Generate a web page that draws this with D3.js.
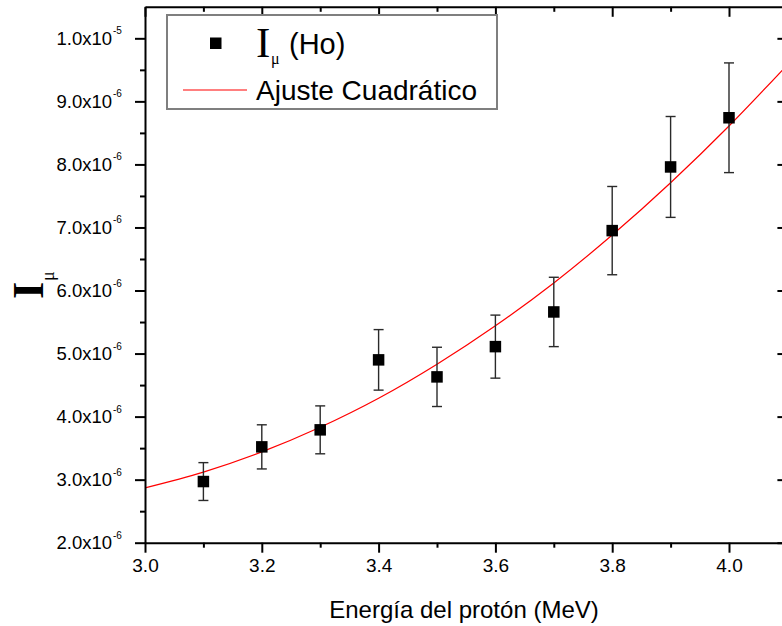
<!DOCTYPE html>
<html><head><meta charset="utf-8">
<script src="https://cdn.jsdelivr.net/npm/d3@7"></script>
<style>
body{margin:0;background:#fff;}
svg{display:block;}
text{fill:#000;}
</style>
</head><body>
<svg id="chart" width="782" height="626"></svg>
<script>
// ---- data ----
const energies = [3.1, 3.2, 3.3, 3.4, 3.5, 3.6, 3.7, 3.8, 3.9, 4.0];
const intensity = [2.97e-6, 3.52e-6, 3.79e-6, 4.90e-6, 4.63e-6, 5.11e-6, 5.66e-6, 6.95e-6, 7.96e-6, 8.74e-6];
const errors = [0.30e-6, 0.35e-6, 0.38e-6, 0.48e-6, 0.47e-6, 0.50e-6, 0.55e-6, 0.70e-6, 0.80e-6, 0.87e-6];
const fitEnergies = [3.0, 3.1, 3.2, 3.3, 3.4, 3.5, 3.6, 3.7, 3.8, 3.9, 4.0, 4.1];
const fitValues = [2.87e-6, 3.12e-6, 3.44e-6, 3.83e-6, 4.29e-6, 4.83e-6, 5.44e-6, 6.12e-6, 6.88e-6, 7.71e-6, 8.61e-6, 9.58e-6];
const xTicks = [3.0, 3.2, 3.4, 3.6, 3.8, 4.0];
const xMinorTicks = [3.1, 3.3, 3.5, 3.7, 3.9];
const xTickLabels = ["3.0", "3.2", "3.4", "3.6", "3.8", "4.0"];
const yTicks = [2e-6, 3e-6, 4e-6, 5e-6, 6e-6, 7e-6, 8e-6, 9e-6, 1e-5];
const yMinorTicks = [2.5e-6, 3.5e-6, 4.5e-6, 5.5e-6, 6.5e-6, 7.5e-6, 8.5e-6, 9.5e-6];
const yTickMantissas = ["2.0x10", "3.0x10", "4.0x10", "5.0x10", "6.0x10", "7.0x10", "8.0x10", "9.0x10", "1.0x10"];
const yTickExponents = ["-6", "-6", "-6", "-6", "-6", "-6", "-6", "-6", "-5"];
const xTitle = "Energía del protón (MeV)";
const seriesLabel = "(Ho)";
const fitLabel = "Ajuste Cuadrático";

const SANS = "'Liberation Sans', Arial, sans-serif";
const SERIF = "'Liberation Serif', 'Times New Roman', serif";

// ---- layout ----
const L = 145, R = 787.4, T = 6.8, B = 542.7;
const svg = d3.select("#chart");
const x = d3.scaleLinear().domain([3.0, 4.1]).range([L, R]);
const y = d3.scaleLinear().domain([2e-6, 1.05e-5]).range([B, T]);

svg.append("defs").append("clipPath").attr("id", "plotclip")
  .append("rect").attr("x", L).attr("y", T).attr("width", R - L).attr("height", B - T);

// fit curve
const line = d3.line().x((d, i) => x(fitEnergies[i])).y(d => y(d)).curve(d3.curveMonotoneX);
svg.append("path").datum(fitValues).attr("d", line)
  .attr("fill", "none").attr("stroke", "#ff0000").attr("stroke-width", 1.2)
  .attr("clip-path", "url(#plotclip)");

// error bars
const eb = svg.append("g").attr("stroke", "#2a2a2a").attr("stroke-width", 1.4);
energies.forEach((e, i) => {
  const cx = x(e), y1 = y(intensity[i] + errors[i]), y2 = y(intensity[i] - errors[i]);
  eb.append("line").attr("x1", cx).attr("x2", cx).attr("y1", y1).attr("y2", y2);
  eb.append("line").attr("x1", cx - 5).attr("x2", cx + 5).attr("y1", y1).attr("y2", y1);
  eb.append("line").attr("x1", cx - 5).attr("x2", cx + 5).attr("y1", y2).attr("y2", y2);
});
// markers
svg.append("g").selectAll("rect").data(intensity).join("rect")
  .attr("x", (d, i) => x(energies[i]) - 5.75).attr("y", d => y(d) - 5.75)
  .attr("width", 11.5).attr("height", 11.5).attr("fill", "#000");

// axes
function styleAxis(g) {
  g.select(".domain").attr("stroke", "#000").attr("stroke-width", 2);
  g.selectAll(".tick line").attr("stroke", "#000").attr("stroke-width", 2);
}
function minorStyle(g) {
  g.select(".domain").remove();
  g.selectAll(".tick line").attr("stroke", "#000").attr("stroke-width", 2);
}
const axBottom = svg.append("g").attr("transform", `translate(0,${B})`)
  .call(d3.axisBottom(x).tickValues(xTicks).tickSize(10).tickSizeOuter(0).tickPadding(6)
    .tickFormat((d, i) => xTickLabels[i]));
styleAxis(axBottom);
axBottom.selectAll(".tick text").style("font-size", "19px").style("font-family", SANS).attr("fill", "#000");
svg.append("g").attr("transform", `translate(0,${B})`)
  .call(d3.axisBottom(x).tickValues(xMinorTicks).tickSize(5).tickFormat("").tickSizeOuter(0))
  .call(minorStyle);

const axTop = svg.append("g").attr("transform", `translate(0,${T})`)
  .call(d3.axisTop(x).tickValues(xTicks).tickSize(-10).tickSizeOuter(0).tickFormat(""));
styleAxis(axTop);
svg.append("g").attr("transform", `translate(0,${T})`)
  .call(d3.axisTop(x).tickValues(xMinorTicks).tickSize(-5).tickFormat("").tickSizeOuter(0))
  .call(minorStyle);

const axLeft = svg.append("g").attr("transform", `translate(${L},0)`)
  .call(d3.axisLeft(y).tickValues(yTicks).tickSize(10).tickSizeOuter(0).tickFormat(""));
styleAxis(axLeft);
svg.append("g").attr("transform", `translate(${L},0)`)
  .call(d3.axisLeft(y).tickValues(yMinorTicks).tickSize(5).tickFormat("").tickSizeOuter(0))
  .call(minorStyle);

const axRight = svg.append("g").attr("transform", `translate(${R},0)`)
  .call(d3.axisRight(y).tickValues(yTicks).tickSize(-10).tickSizeOuter(0).tickFormat(""));
styleAxis(axRight);
svg.append("g").attr("transform", `translate(${R},0)`)
  .call(d3.axisRight(y).tickValues(yMinorTicks).tickSize(-5).tickFormat("").tickSizeOuter(0))
  .call(minorStyle);

// y tick labels with superscripts
const yl = svg.append("g");
yTicks.forEach((v, i) => {
  const ty = y(v);
  yl.append("text").attr("x", L - 33).attr("y", ty + 6.5).attr("text-anchor", "end")
    .style("font-family", SANS).style("font-size", "18.5px").text(yTickMantissas[i]);
  yl.append("text").attr("x", L - 32).attr("y", ty - 4).attr("text-anchor", "start")
    .style("font-family", SANS).style("font-size", "10px").text(yTickExponents[i]);
});

// x title
svg.append("text").attr("x", (L + 787) / 2 - 2).attr("y", 618).attr("text-anchor", "middle")
  .style("font-family", SANS).style("font-size", "24px").text(xTitle);

// y title: I with subscript mu
const yt = svg.append("g").attr("transform", "translate(43,299) rotate(-90)");
yt.append("text").attr("x", 0).attr("y", 0).style("font-family", SERIF)
  .style("font-weight", "bold").style("font-size", "44px").text("I");
yt.append("text").attr("x", 18).attr("y", 11).style("font-family", SERIF)
  .style("font-size", "18px").text("μ");

// legend
const lg = svg.append("g");
lg.append("rect").attr("x", 167).attr("y", 15).attr("width", 330).attr("height", 94)
  .attr("fill", "#fff").attr("stroke", "#7f7f7f").attr("stroke-width", 2);
lg.append("rect").attr("x", 210).attr("y", 37.5).attr("width", 11.5).attr("height", 11.5).attr("fill", "#000");
lg.append("text").attr("x", 256).attr("y", 57).style("font-family", SERIF)
  .style("font-size", "43px").text("I");
lg.append("text").attr("x", 271).attr("y", 64).style("font-family", SERIF)
  .style("font-size", "16px").text("μ");
lg.append("text").attr("x", 289).attr("y", 54).style("font-family", SANS)
  .style("font-size", "29px").text(seriesLabel);
lg.append("line").attr("x1", 183).attr("x2", 247).attr("y1", 90).attr("y2", 90)
  .attr("stroke", "#ff0000").attr("stroke-width", 1.2);
lg.append("text").attr("x", 256).attr("y", 100).style("font-family", SANS)
  .style("font-size", "28px").text(fitLabel);
</script>
</body></html>
